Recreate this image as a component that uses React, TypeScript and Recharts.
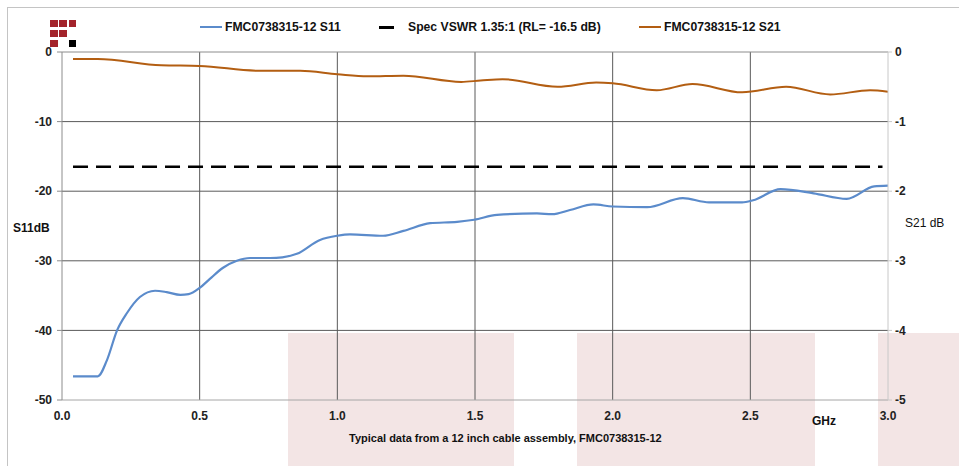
import { LineChart, Line, XAxis, YAxis, CartesianGrid, ReferenceLine } from "recharts";

const s11Freq = [0.04, 0.13, 0.163, 0.2, 0.236, 0.283, 0.338, 0.38, 0.43, 0.46, 0.5, 0.537, 0.585, 0.635, 0.683, 0.756, 0.8, 0.853, 0.937, 1.0, 1.046, 1.166, 1.24, 1.337, 1.435, 1.497, 1.58, 1.725, 1.78, 1.845, 1.93, 2.0, 2.125, 2.255, 2.35, 2.47, 2.51, 2.61, 2.73, 2.85, 2.95, 3.0];
const s11Db = [-46.6, -46.6, -44.3, -40.0, -37.5, -35.2, -34.3, -34.5, -34.9, -34.8, -33.9, -32.6, -31.0, -30.0, -29.6, -29.6, -29.5, -29.0, -27.0, -26.4, -26.2, -26.4, -25.7, -24.6, -24.4, -24.1, -23.4, -23.2, -23.3, -22.7, -21.9, -22.2, -22.3, -21.0, -21.6, -21.6, -21.3, -19.7, -20.3, -21.1, -19.3, -19.2];

const s21Freq = [0.04, 0.13, 0.36, 0.5, 0.72, 0.865, 1.0, 1.11, 1.24, 1.45, 1.52, 1.6, 1.8, 1.94, 2.0, 2.16, 2.29, 2.47, 2.63, 2.79, 2.935, 3.0];
const s21Db = [-0.1, -0.1, -0.19, -0.2, -0.27, -0.27, -0.32, -0.35, -0.34, -0.43, -0.41, -0.39, -0.5, -0.44, -0.45, -0.55, -0.46, -0.58, -0.5, -0.61, -0.55, -0.57];

const specFreq = [0.04, 2.98];
const specDb = -16.5;

const xTicks = [0, 0.5, 1, 1.5, 2, 2.5, 3];
const s11Ticks = [0, -10, -20, -30, -40, -50];
const s21Ticks = [0, -1, -2, -3, -4, -5];
const innerX = [0.5, 1, 1.5, 2, 2.5];
const innerY = [-10, -20, -30, -40];

const s11Data = s11Freq.map((f, i) => ({ f, v: s11Db[i] }));
const s21Data = s21Freq.map((f, i) => ({ f, v: s21Db[i] }));
const specData = specFreq.map((f) => ({ f, v: specDb }));

const FONT = "'Liberation Sans', Arial, sans-serif";
const BLUE = "#5b8bcb";
const BROWN = "#b35e12";
const RED = "#a3232b";

function Logo() {
  const cells = [
    [0, 0, RED], [1, 0, RED], [2, 0, RED],
    [0, 1, RED], [1, 1, RED],
    [0, 2, RED], [2, 2, "#000"],
  ] as const;
  return (
    <>
      {cells.map(([c, r, col], i) => (
        <div
          key={i}
          style={{
            position: "absolute",
            left: 50 + c * 9.3,
            top: 19.5 + r * 10,
            width: 7.5,
            height: 7.5,
            background: col,
          }}
        />
      ))}
    </>
  );
}

function LegendItem({ left, color, dash, label }: { left: number; color: string; dash?: boolean; label: string }) {
  return (
    <div style={{ position: "absolute", left, top: 19, display: "flex", alignItems: "center", height: 16 }}>
      <div
        style={{
          width: dash ? 15 : 22,
          height: dash ? 3 : 2,
          background: color,
          marginRight: dash ? 14 : 3,
        }}
      />
      <span style={{ fontSize: 12.2, fontWeight: "bold", color: "#111", whiteSpace: "nowrap" }}>{label}</span>
    </div>
  );
}

export default function App() {
  return (
    <div style={{ position: "fixed", left: 0, top: 0, width: 959, height: 466, background: "#fff", fontFamily: FONT, overflow: "hidden" }}>
      {/* pale background blocks */}
      <div style={{ position: "absolute", left: 288, top: 333, width: 226, height: 133, background: "#f3e5e5" }} />
      <div style={{ position: "absolute", left: 577, top: 333, width: 238, height: 133, background: "#f3e5e5" }} />
      <div style={{ position: "absolute", left: 878, top: 333, width: 81, height: 133, background: "#f3e5e5" }} />
      {/* frame */}
      <div style={{ position: "absolute", left: 7, top: 7, width: 960, height: 470, borderLeft: "1px solid #c4c4c4", borderTop: "1px solid #c4c4c4" }} />

      <Logo />
      <LegendItem left={200} color={BLUE} label="FMC0738315-12 S11" />
      <LegendItem left={379} color="#000" dash label="Spec VSWR 1.35:1 (RL= -16.5 dB)" />
      <LegendItem left={639} color={BROWN} label="FMC0738315-12 S21" />

      <div style={{ position: "absolute", left: 0, top: 0 }}>
        <LineChart width={959} height={466} margin={{ top: 52, right: 31, bottom: 36, left: 8 }} style={{ fontFamily: FONT }}>
          <CartesianGrid
            yAxisId="left"
            horizontalValues={innerY}
            verticalValues={innerX}
            stroke="#5a5a5a"
            strokeWidth={1}
          />
          <XAxis
            dataKey="f"
            type="number"
            domain={[0, 3]}
            ticks={xTicks}
            tickFormatter={(v: number) => v.toFixed(1)}
            allowDataOverflow
            height={30}
            tickLine={false}
            tickMargin={5}
            axisLine={{ stroke: "#a6a6a6" }}
            tick={{ fontSize: 12, fontWeight: "bold", fill: "#222" }}
            interval={0}
          />
          <YAxis
            yAxisId="left"
            domain={[-50, 0]}
            ticks={s11Ticks}
            width={54}
            tickSize={5}
            tickMargin={5}
            axisLine={{ stroke: "#8c8c8c" }}
            tickLine={{ stroke: "#8c8c8c" }}
            tick={{ fontSize: 12, fontWeight: "bold", fill: "#222" }}
            interval={0}
          />
          <YAxis
            yAxisId="right"
            orientation="right"
            domain={[-5, 0]}
            ticks={s21Ticks}
            width={40}
            tickSize={4}
            tickMargin={3}
            axisLine={{ stroke: "#c8c8c8" }}
            tickLine={{ stroke: "#c8c8c8" }}
            tick={{ fontSize: 12, fontWeight: "bold", fill: "#222" }}
            interval={0}
          />
          <ReferenceLine yAxisId="left" y={0} stroke="#8c8c8c" />
          <Line
            yAxisId="left"
            data={specData}
            dataKey="v"
            stroke="#000"
            strokeWidth={2.5}
            strokeDasharray="15 8"
            dot={false}
            activeDot={false}
            isAnimationActive={false}
          />
          <Line
            yAxisId="right"
            data={s21Data}
            dataKey="v"
            type="monotone"
            stroke={BROWN}
            strokeWidth={2}
            dot={false}
            activeDot={false}
            isAnimationActive={false}
          />
          <Line
            yAxisId="left"
            data={s11Data}
            dataKey="v"
            type="monotone"
            stroke={BLUE}
            strokeWidth={2.2}
            dot={false}
            activeDot={false}
            isAnimationActive={false}
          />
        </LineChart>
      </div>

      <div style={{ position: "absolute", left: 13, top: 221, fontSize: 12, fontWeight: "bold", color: "#111" }}>S11dB</div>
      <div style={{ position: "absolute", left: 905, top: 216, fontSize: 12, color: "#111" }}>S21 dB</div>
      <div style={{ position: "absolute", left: 812, top: 414, fontSize: 12, fontWeight: "bold", color: "#111" }}>GHz</div>
      <div style={{ position: "absolute", left: 349, top: 432, fontSize: 11, fontWeight: "bold", color: "#111", whiteSpace: "nowrap" }}>
        Typical data from a 12 inch cable assembly, FMC0738315-12
      </div>
    </div>
  );
}
